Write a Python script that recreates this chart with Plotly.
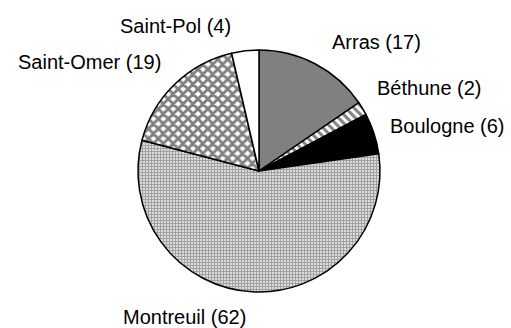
import plotly.graph_objects as go

# Arrondissements and counts, clockwise from 12 o'clock
districts = ["Arras", "Béthune", "Boulogne", "Montreuil", "Saint-Omer", "Saint-Pol"]
counts = [17, 2, 6, 62, 19, 4]

# Fill style for each slice
fill_colors = ["#808080", "white", "black", "white", "white", "white"]
pattern_shapes = ["", "\\", "", "+", "x", ""]
pattern_fg = ["black", "black", "black", "#444444", "black", "black"]
pattern_size = [6, 6, 6, 3, 7, 6]
pattern_solidity = [0.3, 0.5, 0.3, 0.7, 0.65, 0.3]

# Label anchor points in pixels (x, y from top) and horizontal anchor
W, H = 511, 328
label_px = [(330, 42), (375, 88), (388, 126), (184, 317), (163, 62), (233, 26)]
label_anchor = ["left", "left", "left", "center", "right", "right"]

fig = go.Figure(
    go.Pie(
        labels=districts,
        values=counts,
        sort=False,
        direction="clockwise",
        rotation=0,
        textinfo="none",
        textposition="none",
        hoverinfo="label+value",
        marker=dict(
            colors=fill_colors,
            line=dict(color="black", width=1.5),
            pattern=dict(
                shape=pattern_shapes,
                fgcolor=pattern_fg,
                bgcolor=fill_colors,
                size=pattern_size,
                solidity=pattern_solidity,
                fillmode="overlay",
            ),
        ),
        domain=dict(
            x=[(259 - 121) / W, (259 + 121) / W],
            y=[(H - 171 - 121) / H, (H - 171 + 121) / H],
        ),
    )
)

annotations = []
for name, v, (px, py), anc in zip(districts, counts, label_px, label_anchor):
    annotations.append(
        dict(
            text=f"{name} ({v})",
            x=px / W,
            y=(H - py) / H,
            xref="paper",
            yref="paper",
            xanchor=anc,
            yanchor="middle",
            showarrow=False,
            font=dict(family="Liberation Sans, Arial, sans-serif", size=20, color="black"),
        )
    )

fig.update_layout(
    width=W,
    height=H,
    margin=dict(l=0, r=0, t=0, b=0),
    paper_bgcolor="white",
    plot_bgcolor="white",
    showlegend=False,
    annotations=annotations,
)

fig.write_html("out.html")
